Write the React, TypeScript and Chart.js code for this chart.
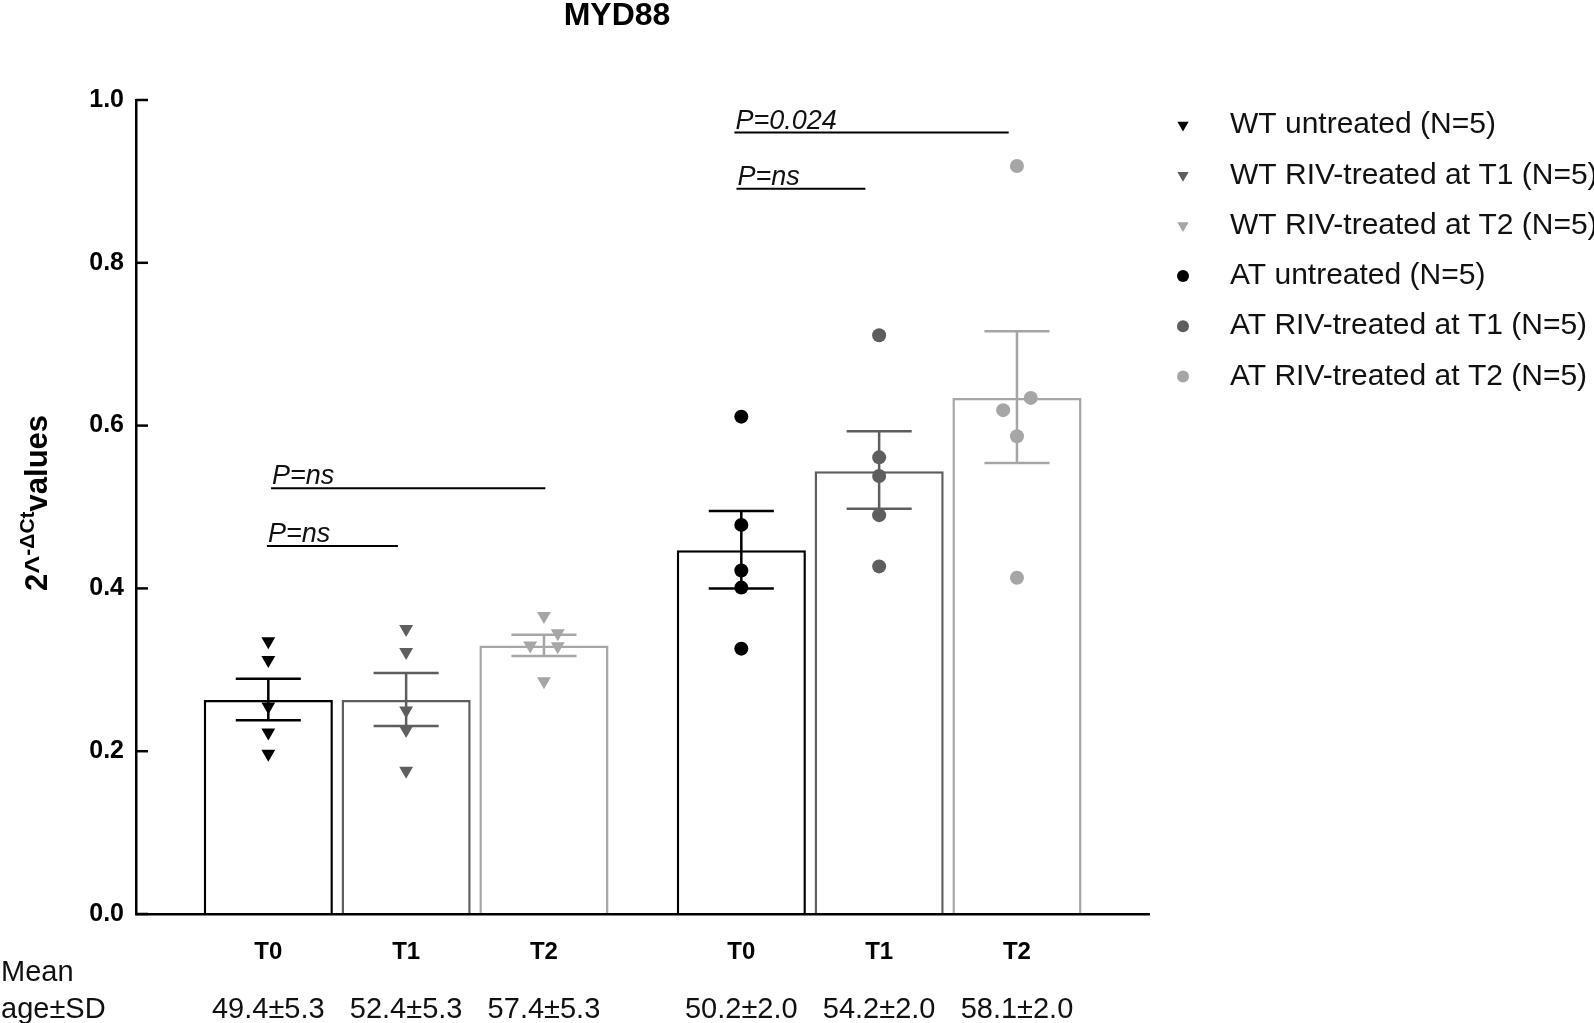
import React, { useEffect, useRef } from 'react';
import { Chart, registerables } from 'chart.js';

Chart.register(...registerables);

// ---------------- data ----------------
const chartTitle = 'MYD88';
const categories = ['T0', 'T1', 'T2', 'T0', 'T1', 'T2'];
const ageLabels = ['49.4±5.3', '52.4±5.3', '57.4±5.3', '50.2±2.0', '54.2±2.0', '58.1±2.0'];
const groupOfBar = [0, 0, 0, 1, 1, 1];
const seriesNames = [
  'WT untreated (N=5)',
  'WT RIV-treated at T1 (N=5)',
  'WT RIV-treated at T2 (N=5)',
  'AT untreated (N=5)',
  'AT RIV-treated at T1 (N=5)',
  'AT RIV-treated at T2 (N=5)',
];
const meanValues = [0.263, 0.263, 0.33, 0.447, 0.544, 0.634];
const semLow = [0.238, 0.231, 0.317, 0.4, 0.498, 0.554];
const semHigh = [0.289, 0.296, 0.343, 0.495, 0.593, 0.716];

const wtUntreated = [0.335, 0.312, 0.255, 0.223, 0.197];
const wtT1 = [0.35, 0.322, 0.25, 0.226, 0.176];
const wtT2 = [0.366, 0.345, 0.33, 0.329, 0.286];
const atUntreated = [0.611, 0.478, 0.422, 0.401, 0.326];
const atT1 = [0.711, 0.561, 0.538, 0.49, 0.427];
const atT2 = [0.919, 0.634, 0.619, 0.587, 0.413];
const pointSeries = [wtUntreated, wtT1, wtT2, atUntreated, atT1, atT2];
// horizontal jitter of the individual points (in bar-slot units)
const pointJitter = [
  [0, 0, 0, 0, 0],
  [0, 0, 0, 0, 0],
  [0, 0.1, -0.1, 0.1, 0],
  [0, 0, 0, 0, 0],
  [0, 0, 0, 0, 0],
  [0, 0.1, -0.1, 0, 0],
];

const yTickStep = 0.2;

// significance annotations
const sigLabels = ['P=ns', 'P=ns', 'P=0.024', 'P=ns'];
const sigFromBar = [0, 0, 3, 3];
const sigToBar = [2, 1, 5, 4];
const sigValue = [0.523, 0.452, 0.96, 0.891];
const sigFromShift = [0.02, -0.01, -0.05, -0.035];
const sigToShift = [0.01, -0.06, -0.06, -0.1];

// ---------------- styles / layout ----------------
const FONT = "'Liberation Sans', Arial, Helvetica, sans-serif";
const seriesColors = ['#000000', '#5e5e5e', '#a6a6a6', '#000000', '#5e5e5e', '#a6a6a6'];
const GROUP_GAP = 0.432;
const barX = categories.map((_, i) => i + (groupOfBar[i] ? GROUP_GAP : 0));
const X_MIN = -0.96;
const X_MAX = 6.39;
const CAP_HALF = 0.236;

Chart.defaults.font.family = FONT;

const overlayPlugin = {
  id: 'overlay',
  afterDatasetDraw(chart: any, args: any) {
    if (args.index !== 0) return;
    const { ctx } = chart;
    const x = chart.scales.x;
    const y = chart.scales.y;
    ctx.save();
    ctx.lineWidth = 2.5;
    meanValues.forEach((_, i) => {
      const cx = x.getPixelForValue(barX[i]);
      const half = x.getPixelForValue(barX[i] + CAP_HALF) - cx;
      const yl = y.getPixelForValue(semLow[i]);
      const yh = y.getPixelForValue(semHigh[i]);
      ctx.strokeStyle = seriesColors[i];
      ctx.beginPath();
      ctx.moveTo(cx, yl);
      ctx.lineTo(cx, yh);
      ctx.moveTo(cx - half, yl);
      ctx.lineTo(cx + half, yl);
      ctx.moveTo(cx - half, yh);
      ctx.lineTo(cx + half, yh);
      ctx.stroke();
    });
    ctx.restore();
  },
  afterDraw(chart: any) {
    const { ctx, chartArea } = chart;
    const x = chart.scales.x;
    const y = chart.scales.y;
    ctx.save();

    // title
    ctx.fillStyle = '#000';
    ctx.font = `bold 32px ${FONT}`;
    ctx.textAlign = 'center';
    ctx.textBaseline = 'middle';
    ctx.fillText(chartTitle, 617, 16);

    // inward y tick marks
    ctx.strokeStyle = '#000';
    ctx.lineWidth = 2.5;
    y.ticks.forEach((t: any) => {
      const py = y.getPixelForValue(t.value);
      ctx.beginPath();
      ctx.moveTo(chartArea.left, py);
      ctx.lineTo(chartArea.left + 12, py);
      ctx.stroke();
    });

    // y axis title with superscript
    ctx.save();
    ctx.translate(36, 503);
    ctx.rotate(-Math.PI / 2);
    const bigFont = `bold 31px ${FONT}`;
    const smallFont = `bold 21px ${FONT}`;
    ctx.font = bigFont;
    const w1 = ctx.measureText('2^').width;
    const w3 = ctx.measureText('values').width;
    ctx.font = smallFont;
    const w2 = ctx.measureText('-ΔCt').width;
    let sx = -(w1 + w2 + w3) / 2;
    ctx.textAlign = 'left';
    ctx.textBaseline = 'alphabetic';
    ctx.fillStyle = '#000';
    ctx.font = bigFont;
    ctx.fillText('2^', sx, 11);
    sx += w1;
    ctx.font = smallFont;
    ctx.fillText('-ΔCt', sx, -2);
    sx += w2;
    ctx.font = bigFont;
    ctx.fillText('values', sx, 11);
    ctx.restore();

    // "Mean age±SD" row header
    ctx.font = `29px ${FONT}`;
    ctx.textAlign = 'left';
    ctx.textBaseline = 'middle';
    ctx.fillStyle = '#111';
    ctx.fillText('Mean', 1, 973);
    ctx.fillText('age±SD', 1, 1010);

    // significance lines
    ctx.lineWidth = 2;
    ctx.strokeStyle = '#000';
    ctx.fillStyle = '#111';
    ctx.font = `italic 27px ${FONT}`;
    ctx.textBaseline = 'alphabetic';
    sigLabels.forEach((lab, i) => {
      const x1 = x.getPixelForValue(barX[sigFromBar[i]] + sigFromShift[i]);
      const x2 = x.getPixelForValue(barX[sigToBar[i]] + sigToShift[i]);
      const py = y.getPixelForValue(sigValue[i]);
      ctx.beginPath();
      ctx.moveTo(x1, py);
      ctx.lineTo(x2, py);
      ctx.stroke();
      ctx.fillText(lab, x1 + 1, py - 4);
    });

    // legend
    ctx.font = `30px ${FONT}`;
    ctx.textBaseline = 'middle';
    seriesNames.forEach((name, i) => {
      const cy = 125 + i * 50.3;
      const mx = 1183;
      ctx.fillStyle = seriesColors[i];
      ctx.beginPath();
      if (i < 3) {
        const r = 6.5;
        ctx.moveTo(mx - r * 0.866, cy - r * 0.5);
        ctx.lineTo(mx + r * 0.866, cy - r * 0.5);
        ctx.lineTo(mx, cy + r);
        ctx.closePath();
      } else {
        ctx.arc(mx, cy, 6, 0, Math.PI * 2);
      }
      ctx.fill();
      ctx.fillStyle = '#111';
      ctx.fillText(name, 1230, cy);
    });

    ctx.restore();
  },
};

export default function App() {
  const ref = useRef<HTMLCanvasElement>(null);

  useEffect(() => {
    if (!ref.current) return;
    const datasets: any[] = [
      {
        type: 'bar',
        label: 'Mean',
        data: meanValues.map((v, i) => ({ x: barX[i], y: v })),
        backgroundColor: '#ffffff',
        borderColor: seriesColors,
        borderWidth: 2.5,
        borderSkipped: 'start',
        barPercentage: 0.937,
        categoryPercentage: 1,
        order: 2,
      },
      ...pointSeries.map((vals, i) => ({
        type: 'scatter',
        label: seriesNames[i],
        data: vals.map((v, j) => ({ x: barX[i] + pointJitter[i][j], y: v })),
        pointStyle: i < 3 ? 'triangle' : 'circle',
        rotation: i < 3 ? 180 : 0,
        pointRadius: i < 3 ? 8 : 7,
        backgroundColor: seriesColors[i],
        borderColor: seriesColors[i],
        pointBorderWidth: 0,
        showLine: false,
        order: 1,
      })),
    ];

    const chart = new Chart(ref.current, {
      type: 'bar',
      data: { datasets },
      options: {
        responsive: false,
        animation: false,
        layout: { padding: { top: 100, right: 445, left: 0, bottom: 0 } },
        plugins: {
          legend: { display: false },
          tooltip: { enabled: false },
          title: { display: false },
        },
        scales: {
          x: {
            type: 'linear',
            offset: false,
            min: X_MIN,
            max: X_MAX,
            bounds: 'data',
            grid: { display: false, drawTicks: false, offset: false },
            border: { display: true, color: '#000', width: 2.5, z: 1 },
            ticks: {
              autoSkip: false,
              maxRotation: 0,
              padding: 24,
              color: '#000',
              font: { weight: 'bold', size: 24 },
              callback: (_v: any, i: number) => categories[i],
            },
            afterBuildTicks: (s: any) => {
              s.ticks = barX.map((v) => ({ value: v }));
            },
            afterFit: (s: any) => {
              s.height = 62;
            },
          },
          x2: {
            type: 'linear',
            position: 'bottom',
            weight: 1,
            offset: false,
            min: X_MIN,
            max: X_MAX,
            bounds: 'data',
            grid: { display: false, drawTicks: false, offset: false },
            border: { display: false },
            ticks: {
              autoSkip: false,
              maxRotation: 0,
              padding: 17,
              color: '#111',
              font: { size: 29 },
              callback: (_v: any, i: number) => ageLabels[i],
            },
            afterBuildTicks: (s: any) => {
              s.ticks = barX.map((v) => ({ value: v }));
            },
            afterFit: (s: any) => {
              s.height = 47;
            },
          },
          y: {
            min: 0,
            max: 1,
            grid: { display: false, drawTicks: false },
            border: { display: true, color: '#000', width: 2.5, z: 1 },
            ticks: {
              stepSize: yTickStep,
              padding: 12,
              color: '#000',
              font: { weight: 'bold', size: 25 },
              callback: (v: any) => Number(v).toFixed(1),
            },
            afterFit: (s: any) => {
              s.width = 136;
            },
          },
        },
      } as any,
      plugins: [overlayPlugin],
    });
    return () => chart.destroy();
  }, []);

  return (
    <div style={{ position: 'fixed', left: 0, top: 0, width: 1594, height: 1023, background: '#ffffff', overflow: 'hidden' }}>
      <canvas ref={ref} width={1594} height={1023} style={{ display: 'block', width: 1594, height: 1023 }} />
    </div>
  );
}
